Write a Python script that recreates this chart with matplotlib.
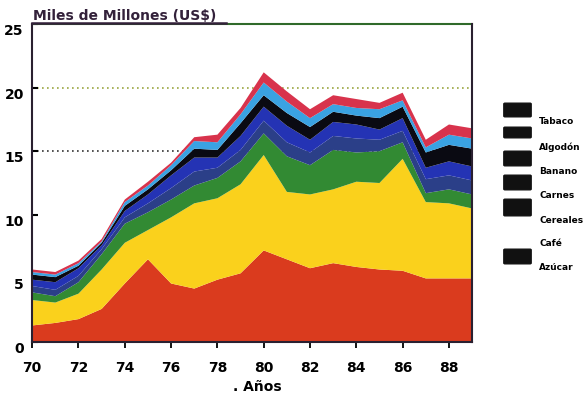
import numpy as np
import matplotlib
matplotlib.use("Agg")
import matplotlib.pyplot as plt
import matplotlib.patches as mpatches
import matplotlib.lines as mlines

plt.rcParams["font.family"] = ["DejaVu Sans"]
plt.rcParams["font.weight"] = "bold"

years = list(range(1970, 1990))
year_ticks = list(range(1970, 1989, 2))
year_labels = ["70", "72", "74", "76", "78", "80", "82", "84", "86", "88"]

# layers, bottom to top (miles de millones US$)
azucar = [1.3, 1.5, 1.8, 2.6, 4.6, 6.5, 4.6, 4.2, 4.9, 5.4, 7.2, 6.5, 5.8, 6.2, 5.9, 5.7, 5.6, 5.0, 5.0, 5.0]
cafe = [2.0, 1.6, 2.0, 3.1, 3.2, 2.3, 5.2, 6.7, 6.4, 7.0, 7.5, 5.3, 5.8, 5.8, 6.7, 6.8, 8.8, 6.0, 5.9, 5.5]
cereales = [0.6, 0.5, 0.9, 1.2, 1.5, 1.4, 1.4, 1.4, 1.6, 1.8, 1.7, 2.8, 2.3, 3.1, 2.3, 2.5, 1.3, 0.7, 1.1, 1.1]
carnes = [0.5, 0.5, 0.5, 0.4, 0.5, 0.7, 0.9, 1.1, 0.8, 0.9, 1.0, 1.1, 1.0, 1.1, 1.1, 0.9, 0.9, 1.1, 1.1, 1.1]
banano = [0.5, 0.6, 0.6, 0.3, 0.5, 0.7, 1.0, 1.1, 0.8, 1.1, 1.1, 1.3, 1.0, 1.1, 1.1, 0.8, 1.0, 0.9, 1.1, 1.1]
algodon = [0.4, 0.4, 0.2, 0.2, 0.4, 0.4, 0.4, 0.7, 0.6, 1.0, 0.9, 1.0, 1.0, 0.8, 0.7, 0.9, 0.9, 1.2, 1.3, 1.4]
tabaco = [0.2, 0.2, 0.2, 0.1, 0.3, 0.3, 0.4, 0.6, 0.6, 0.7, 1.0, 0.9, 0.7, 0.6, 0.6, 0.7, 0.5, 0.4, 0.8, 0.8]
otros = [0.2, 0.2, 0.2, 0.2, 0.2, 0.3, 0.2, 0.3, 0.6, 0.5, 0.8, 0.8, 0.7, 0.7, 0.7, 0.5, 0.6, 0.6, 0.8, 0.8]

layer_colors = ["#da3b1e", "#fad11c", "#328a33", "#2b3f88", "#2433b4", "#0a0a12", "#3aa2e2", "#d8334c"]

legend_labels = ["Tabaco", "Algodón", "Banano", "Carnes", "Cereales", "Café", "Azúcar"]
legend_has_box = [True, True, True, True, True, False, True]

fig = plt.figure(figsize=(5.85, 4.0), dpi=100)
ax = fig.add_axes([0.055, 0.145, 0.752, 0.795])

x = [y - 1900 for y in years]
ax.stackplot(x, azucar, cafe, cereales, carnes, banano, algodon, tabaco, otros,
             colors=layer_colors, linewidth=0, zorder=2)

for g, c in [(15, "#333333"), (20, "#9aa640")]:
    ax.axhline(g, color=c, linestyle=(0, (1, 2)), linewidth=1.2, zorder=1)

ax.set_xlim(70, 89)
ax.set_ylim(0, 25)
ax.set_xticks([t - 1900 for t in year_ticks])
ax.set_xticklabels(year_labels, fontsize=10, fontweight="bold")
ax.set_xticks(x, minor=True)
ax.set_yticks([0, 5, 10, 15, 20, 25])
ax.set_yticklabels(["0", "5", "10", "15", "20", "25"], fontsize=10, fontweight="bold")
ax.tick_params(axis="x", which="major", direction="inout", length=8, width=1.3, pad=10)
ax.tick_params(axis="x", which="minor", direction="in", length=4, width=1.1)
ax.tick_params(axis="y", direction="in", length=4, width=1.5, pad=6)
for lab in ax.get_yticklabels():
    lab.set_verticalalignment("top")

for s in ["left", "bottom", "right"]:
    ax.spines[s].set_color("#2a2030")
    ax.spines[s].set_linewidth(1.5)
    ax.spines[s].set_zorder(3)
ax.spines["top"].set_color("#2f6a2a")
ax.spines["top"].set_linewidth(1.5)

fig.text(0.057, 1 - 20 / 400, "Miles de Millones (US$)", fontsize=10, fontweight="bold",
         color="#33213a", ha="left", va="baseline")
fig.add_artist(mlines.Line2D([32 / 585, 226 / 585], [1 - 23 / 400, 1 - 23 / 400],
                             transform=fig.transFigure, color="#33213a", linewidth=1.8))
fig.text(0.44, 0.015, ". Años", fontsize=10, fontweight="bold", ha="center", va="bottom")

# legend drawn by hand: black boxes, labels sit a bit below them
box_tops = [104, 128, 152, 176, 200, None, 250]
box_heights = [12, 9, 13, 13, 15, None, 13]
label_ys = [122, 147, 171, 196, 220, 244, 268]
for lab, has_box, bt, bh, ly in zip(legend_labels, legend_has_box, box_tops, box_heights, label_ys):
    if has_box:
        fig.add_artist(mpatches.FancyBboxPatch(
            (505 / 585, 1 - (bt + bh) / 400), 25 / 585, bh / 400,
            boxstyle="round,pad=0.002", transform=fig.transFigure,
            facecolor="#111111", edgecolor="#111111"))
    fig.text(539 / 585, 1 - ly / 400, lab, fontsize=6.5, fontweight="bold",
             ha="left", va="center")

fig.savefig("out.png", dpi=100)
